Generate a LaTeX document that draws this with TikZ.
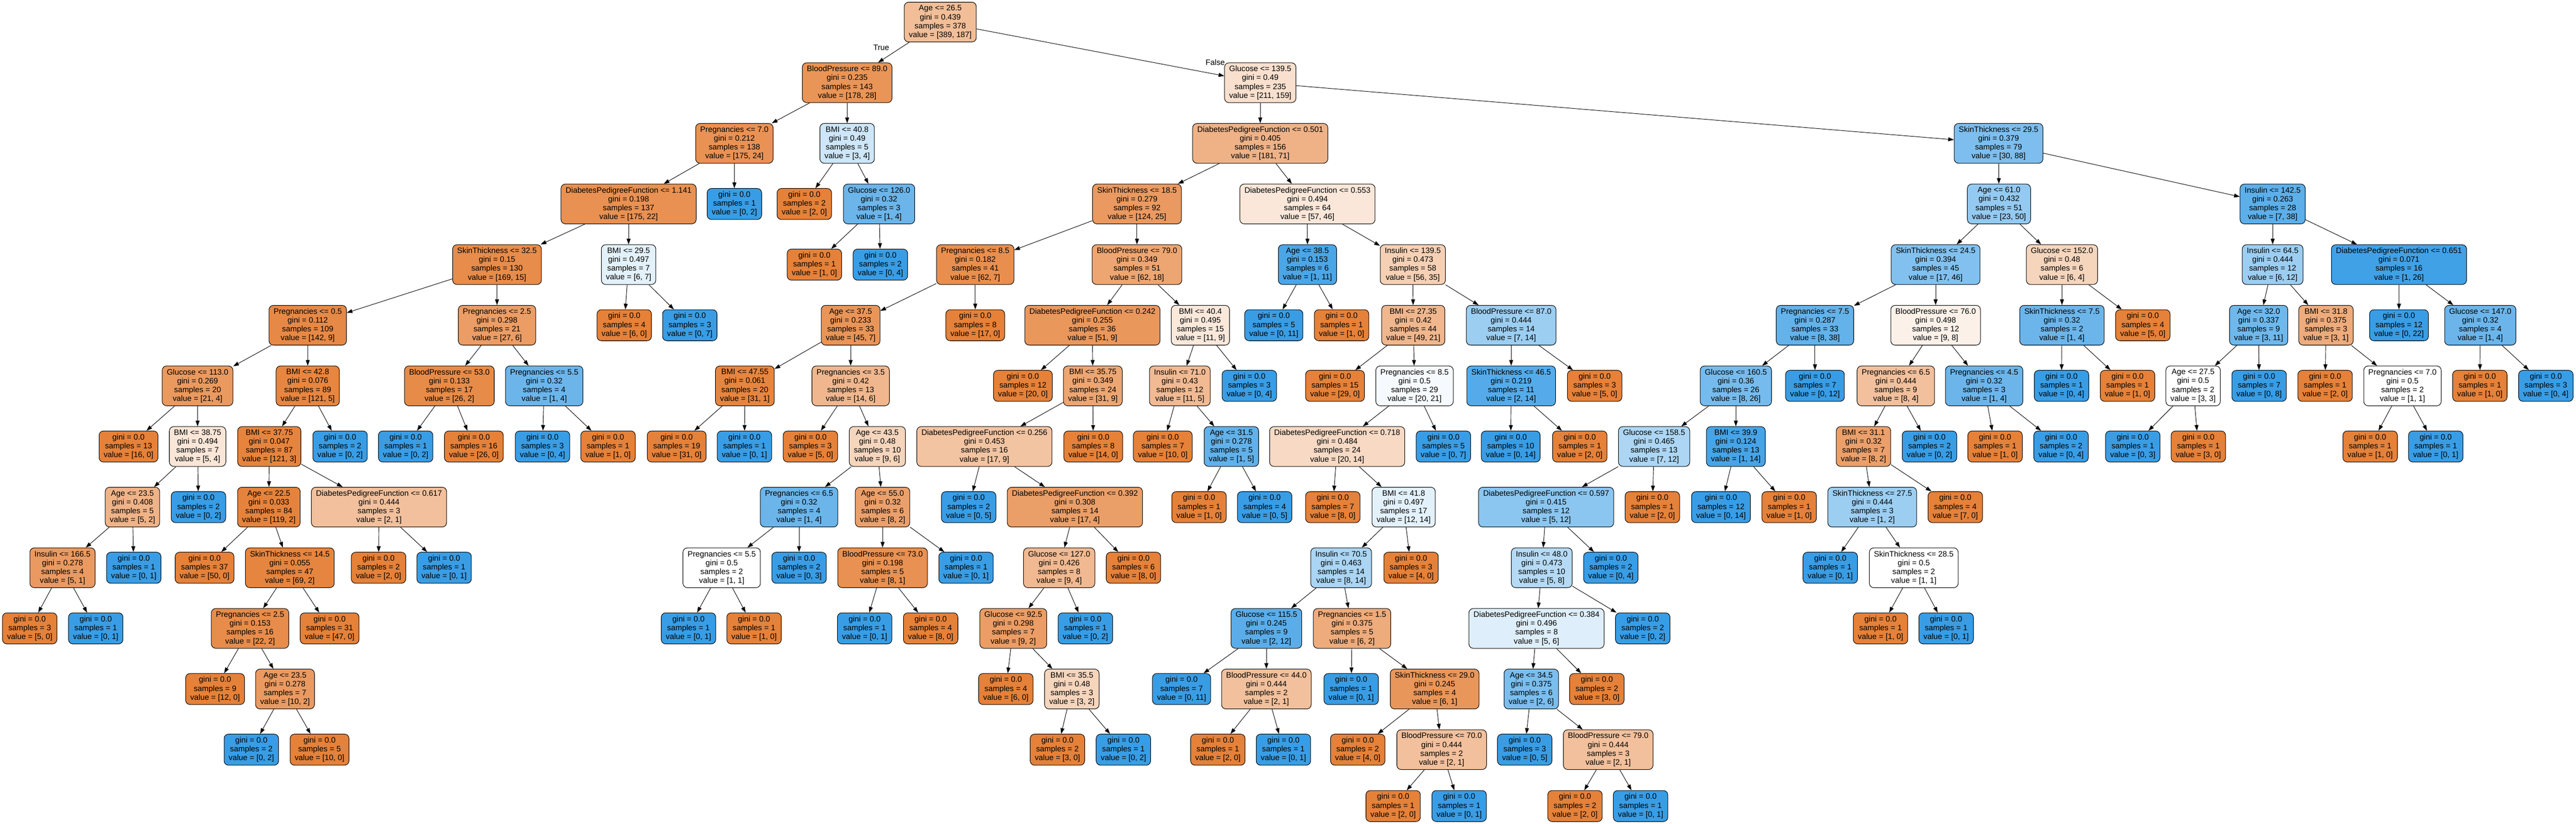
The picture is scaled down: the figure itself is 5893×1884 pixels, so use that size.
\documentclass[tikz,border=0pt]{standalone}
\usepackage{fontspec}
\setmainfont{Liberation Sans}
\usepackage{tikz}
\usetikzlibrary{arrows.meta}
\usetikzlibrary{positioning}
\definecolor{clsa}{RGB}{229,129,57}
\definecolor{clsb}{RGB}{57,157,229}

\begin{document}
\begin{tikzpicture}[x=1pt,y=-1pt,>={Triangle[length=13pt,width=9pt]}]
\tikzstyle{every node}=[font=\fontsize{18}{20.2}\selectfont]
\tikzstyle{splitbox}=[draw,line width=1.2pt,rounded corners=10pt,align=center,inner xsep=10.5pt,inner ysep=0pt,minimum height=91pt]
\tikzstyle{leafbox}=[splitbox,minimum height=71pt]
\def\ytop{50.5}
\def\dy{138.67}
\useasboundingbox (0,0) rectangle (5893,1884);

% noeud de test : nom, x, rang, test, gini, samples, valeurs
\newcommand{\splitnode}[8]{%
  \pgfmathsetmacro\tint{100*(abs(#7-#8)/max(#7,#8))}%
  \ifnum#7<#8\relax\def\cls{clsb}\else\def\cls{clsa}\fi
  \pgfmathsetmacro\yy{\ytop+\dy*#3}%
  \node[splitbox,fill=\cls!\tint!white] (#1) at (#2,\yy) {#4\\gini = #5\\samples = #6\\value = [#7, #8]};}
% feuille : nom, x, rang, samples, valeurs
\newcommand{\leafnode}[6]{%
  \ifnum#5=0\relax\def\cls{clsb}\else\def\cls{clsa}\fi
  \pgfmathsetmacro\yy{\ytop+\dy*#3}%
  \node[leafbox,fill=\cls] (#1) at (#2,\yy) {gini = 0.0\\samples = #4\\value = [#5, #6]};}

%=== Racine
\splitnode{n0}{2151}{0}{Age <= 26.5}{0.439}{378}{389}{187}

%=== Branche True
\splitnode{n1}{1938}{1}{BloodPressure <= 89.0}{0.235}{143}{178}{28}
\splitnode{n2}{1680}{2}{Pregnancies <= 7.0}{0.212}{138}{175}{24}
\splitnode{n3}{1438}{3}{DiabetesPedigreeFunction <= 1.141}{0.198}{137}{175}{22}
\splitnode{n4}{1137}{4}{SkinThickness <= 32.5}{0.15}{130}{169}{15}
\splitnode{n5}{704}{5}{Pregnancies <= 0.5}{0.112}{109}{142}{9}
\splitnode{n6}{452}{6}{Glucose <= 113.0}{0.269}{20}{21}{4}
\leafnode{n7}{294}{7}{13}{16}{0}
\splitnode{n8}{452}{7}{BMI <= 38.75}{0.494}{7}{5}{4}
\splitnode{n9}{303}{8}{Age <= 23.5}{0.408}{5}{5}{2}
\splitnode{n10}{143}{9}{Insulin <= 166.5}{0.278}{4}{5}{1}
\leafnode{n11}{68}{10}{3}{5}{0}
\leafnode{n12}{219}{10}{1}{0}{1}
\leafnode{n13}{306}{9}{1}{0}{1}
\leafnode{n14}{454}{8}{2}{0}{2}
\splitnode{n15}{704}{6}{BMI <= 42.8}{0.076}{89}{121}{5}
\splitnode{n16}{616}{7}{BMI <= 37.75}{0.047}{87}{121}{3}
\splitnode{n17}{615}{8}{Age <= 22.5}{0.033}{84}{119}{2}
\leafnode{n18}{468}{9}{37}{50}{0}
\splitnode{n19}{663}{9}{SkinThickness <= 14.5}{0.055}{47}{69}{2}
\splitnode{n20}{572}{10}{Pregnancies <= 2.5}{0.153}{16}{22}{2}
\leafnode{n21}{492}{11}{9}{12}{0}
\splitnode{n22}{652}{11}{Age <= 23.5}{0.278}{7}{10}{2}
\leafnode{n23}{575}{12}{2}{0}{2}
\leafnode{n24}{731}{12}{5}{10}{0}
\leafnode{n25}{754}{10}{31}{47}{0}
\splitnode{n26}{867}{8}{DiabetesPedigreeFunction <= 0.617}{0.444}{3}{2}{1}
\leafnode{n27}{866}{9}{2}{2}{0}
\leafnode{n28}{1016}{9}{1}{0}{1}
\leafnode{n29}{778}{7}{2}{0}{2}
\splitnode{n30}{1137}{5}{Pregnancies <= 2.5}{0.298}{21}{27}{6}
\splitnode{n31}{1028}{6}{BloodPressure <= 53.0}{0.133}{17}{26}{2}
\leafnode{n32}{928}{7}{1}{0}{2}
\leafnode{n33}{1084}{7}{16}{26}{0}
\splitnode{n34}{1245}{6}{Pregnancies <= 5.5}{0.32}{4}{1}{4}
\leafnode{n35}{1241}{7}{3}{0}{4}
\leafnode{n36}{1391}{7}{1}{1}{0}
\splitnode{n37}{1438}{4}{BMI <= 29.5}{0.497}{7}{6}{7}
\leafnode{n38}{1428}{5}{4}{6}{0}
\leafnode{n39}{1578}{5}{3}{0}{7}
\leafnode{n40}{1680}{3}{1}{0}{2}
\splitnode{n41}{1938}{2}{BMI <= 40.8}{0.49}{5}{3}{4}
\leafnode{n42}{1840}{3}{2}{2}{0}
\splitnode{n43}{2011}{3}{Glucose <= 126.0}{0.32}{3}{1}{4}
\leafnode{n44}{1863}{4}{1}{1}{0}
\leafnode{n45}{2014}{4}{2}{0}{4}

%=== Branche False
\splitnode{n46}{2883}{1}{Glucose <= 139.5}{0.49}{235}{211}{159}
\splitnode{n47}{2883}{2}{DiabetesPedigreeFunction <= 0.501}{0.405}{156}{181}{71}
\splitnode{n48}{2601}{3}{SkinThickness <= 18.5}{0.279}{92}{124}{25}
\splitnode{n49}{2231}{4}{Pregnancies <= 8.5}{0.182}{41}{62}{7}
\splitnode{n50}{1946}{5}{Age <= 37.5}{0.233}{33}{45}{7}
\splitnode{n51}{1704}{6}{BMI <= 47.55}{0.061}{20}{31}{1}
\leafnode{n52}{1548}{7}{19}{31}{0}
\leafnode{n53}{1703}{7}{1}{0}{1}
\splitnode{n54}{1946}{6}{Pregnancies <= 3.5}{0.42}{13}{14}{6}
\leafnode{n55}{1854}{7}{3}{5}{0}
\splitnode{n56}{2007}{7}{Age <= 43.5}{0.48}{10}{9}{6}
\splitnode{n57}{1828}{8}{Pregnancies <= 6.5}{0.32}{4}{1}{4}
\splitnode{n58}{1651}{9}{Pregnancies <= 5.5}{0.5}{2}{1}{1}
\leafnode{n59}{1575}{10}{1}{0}{1}
\leafnode{n60}{1725}{10}{1}{1}{0}
\leafnode{n61}{1828}{9}{2}{0}{3}
\splitnode{n62}{2019}{8}{Age <= 55.0}{0.32}{6}{8}{2}
\splitnode{n63}{2019}{9}{BloodPressure <= 73.0}{0.198}{5}{8}{1}
\leafnode{n64}{1978}{10}{1}{0}{1}
\leafnode{n65}{2129}{10}{4}{8}{0}
\leafnode{n66}{2210}{9}{1}{0}{1}
\leafnode{n67}{2231}{5}{8}{17}{0}
\splitnode{n68}{2601}{4}{BloodPressure <= 79.0}{0.349}{51}{62}{18}
\splitnode{n69}{2499}{5}{DiabetesPedigreeFunction <= 0.242}{0.255}{36}{51}{9}
\leafnode{n70}{2340}{6}{12}{20}{0}
\splitnode{n71}{2500}{6}{BMI <= 35.75}{0.349}{24}{31}{9}
\splitnode{n72}{2252}{7}{DiabetesPedigreeFunction <= 0.256}{0.453}{16}{17}{9}
\leafnode{n73}{2216}{8}{2}{0}{5}
\splitnode{n74}{2459}{8}{DiabetesPedigreeFunction <= 0.392}{0.308}{14}{17}{4}
\splitnode{n75}{2423}{9}{Glucose <= 127.0}{0.426}{8}{9}{4}
\splitnode{n76}{2318}{10}{Glucose <= 92.5}{0.298}{7}{9}{2}
\leafnode{n77}{2301}{11}{4}{6}{0}
\splitnode{n78}{2452}{11}{BMI <= 35.5}{0.48}{3}{3}{2}
\leafnode{n79}{2419}{12}{2}{3}{0}
\leafnode{n80}{2570}{12}{1}{0}{2}
\leafnode{n81}{2483}{10}{1}{0}{2}
\leafnode{n82}{2593}{9}{6}{8}{0}
\leafnode{n83}{2501}{7}{8}{14}{0}
\splitnode{n84}{2746}{5}{BMI <= 40.4}{0.495}{15}{11}{9}
\splitnode{n85}{2699}{6}{Insulin <= 71.0}{0.43}{12}{11}{5}
\leafnode{n86}{2660}{7}{7}{10}{0}
\splitnode{n87}{2817}{7}{Age <= 31.5}{0.278}{5}{1}{5}
\leafnode{n88}{2743}{8}{1}{1}{0}
\leafnode{n89}{2893}{8}{4}{0}{5}
\leafnode{n90}{2858}{6}{3}{0}{4}
\splitnode{n91}{2991}{3}{DiabetesPedigreeFunction <= 0.553}{0.494}{64}{57}{46}
\splitnode{n92}{2991}{4}{Age <= 38.5}{0.153}{6}{1}{11}
\leafnode{n93}{2914}{5}{5}{0}{11}
\leafnode{n94}{3069}{5}{1}{1}{0}
\splitnode{n95}{3232}{4}{Insulin <= 139.5}{0.473}{58}{56}{35}
\splitnode{n96}{3233}{5}{BMI <= 27.35}{0.42}{44}{49}{21}
\leafnode{n97}{3054}{6}{15}{29}{0}
\splitnode{n98}{3236}{6}{Pregnancies <= 8.5}{0.5}{29}{20}{21}
\splitnode{n99}{3059}{7}{DiabetesPedigreeFunction <= 0.718}{0.484}{24}{20}{14}
\leafnode{n100}{3049}{8}{7}{8}{0}
\splitnode{n101}{3211}{8}{BMI <= 41.8}{0.497}{17}{12}{14}
\splitnode{n102}{3068}{9}{Insulin <= 70.5}{0.463}{14}{8}{14}
\splitnode{n103}{2897}{10}{Glucose <= 115.5}{0.245}{9}{2}{12}
\leafnode{n104}{2703}{11}{7}{0}{11}
\splitnode{n105}{2897}{11}{BloodPressure <= 44.0}{0.444}{2}{2}{1}
\leafnode{n106}{2786}{12}{1}{2}{0}
\leafnode{n107}{2936}{12}{1}{0}{1}
\splitnode{n108}{3093}{10}{Pregnancies <= 1.5}{0.375}{5}{6}{2}
\leafnode{n109}{3091}{11}{1}{0}{1}
\splitnode{n110}{3282}{11}{SkinThickness <= 29.0}{0.245}{4}{6}{1}
\leafnode{n111}{3106}{12}{2}{4}{0}
\splitnode{n112}{3298}{12}{BloodPressure <= 70.0}{0.444}{2}{2}{1}
\leafnode{n113}{3187}{12.93}{1}{2}{0}
\leafnode{n114}{3338}{12.93}{1}{0}{1}
\leafnode{n115}{3228}{9}{3}{4}{0}
\leafnode{n116}{3302}{7}{5}{0}{7}
\splitnode{n117}{3457}{5}{BloodPressure <= 87.0}{0.444}{14}{7}{14}
\splitnode{n118}{3457}{6}{SkinThickness <= 46.5}{0.219}{11}{2}{14}
\leafnode{n119}{3456}{7}{10}{0}{14}
\leafnode{n120}{3614}{7}{1}{2}{0}
\leafnode{n121}{3648}{6}{3}{5}{0}
\splitnode{n122}{4572}{2}{SkinThickness <= 29.5}{0.379}{79}{30}{88}
\splitnode{n123}{4573}{3}{Age <= 61.0}{0.432}{51}{23}{50}
\splitnode{n124}{4428}{4}{SkinThickness <= 24.5}{0.394}{45}{17}{46}
\splitnode{n125}{4152}{5}{Pregnancies <= 7.5}{0.287}{33}{8}{38}
\splitnode{n126}{3971}{6}{Glucose <= 160.5}{0.36}{26}{8}{26}
\splitnode{n127}{3784}{7}{Glucose <= 158.5}{0.465}{13}{7}{12}
\splitnode{n128}{3537}{8}{DiabetesPedigreeFunction <= 0.597}{0.415}{12}{5}{12}
\splitnode{n129}{3527}{9}{Insulin <= 48.0}{0.473}{10}{5}{8}
\splitnode{n130}{3515}{10}{DiabetesPedigreeFunction <= 0.384}{0.496}{8}{5}{6}
\splitnode{n131}{3503}{11}{Age <= 34.5}{0.375}{6}{2}{6}
\leafnode{n132}{3488}{12}{3}{0}{5}
\splitnode{n133}{3679}{12}{BloodPressure <= 79.0}{0.444}{3}{2}{1}
\leafnode{n134}{3603}{12.93}{2}{2}{0}
\leafnode{n135}{3753}{12.93}{1}{0}{1}
\leafnode{n136}{3653}{11}{2}{3}{0}
\leafnode{n137}{3758}{10}{2}{0}{2}
\leafnode{n138}{3685}{9}{2}{0}{4}
\leafnode{n139}{3780}{8}{1}{2}{0}
\splitnode{n140}{3971}{7}{BMI <= 39.9}{0.124}{13}{1}{14}
\leafnode{n141}{3937}{8}{12}{0}{14}
\leafnode{n142}{4093}{8}{1}{1}{0}
\leafnode{n143}{4152}{6}{7}{0}{12}
\splitnode{n144}{4428}{5}{BloodPressure <= 76.0}{0.498}{12}{9}{8}
\splitnode{n145}{4337}{6}{Pregnancies <= 6.5}{0.444}{9}{8}{4}
\splitnode{n146}{4263}{7}{BMI <= 31.1}{0.32}{7}{8}{2}
\splitnode{n147}{4283}{8}{SkinThickness <= 27.5}{0.444}{3}{1}{2}
\leafnode{n148}{4187}{9}{1}{0}{1}
\splitnode{n149}{4378}{9}{SkinThickness <= 28.5}{0.5}{2}{1}{1}
\leafnode{n150}{4302}{10}{1}{1}{0}
\leafnode{n151}{4452}{10}{1}{0}{1}
\leafnode{n152}{4473}{8}{4}{7}{0}
\leafnode{n153}{4414}{7}{2}{0}{2}
\splitnode{n154}{4539}{6}{Pregnancies <= 4.5}{0.32}{3}{1}{4}
\leafnode{n155}{4564}{7}{1}{1}{0}
\leafnode{n156}{4715}{7}{2}{0}{4}
\splitnode{n157}{4717}{4}{Glucose <= 152.0}{0.48}{6}{6}{4}
\splitnode{n158}{4717}{5}{SkinThickness <= 7.5}{0.32}{2}{1}{4}
\leafnode{n159}{4716}{6}{1}{0}{4}
\leafnode{n160}{4867}{6}{1}{1}{0}
\leafnode{n161}{4902}{5}{4}{5}{0}
\splitnode{n162}{5199}{3}{Insulin <= 142.5}{0.263}{28}{7}{38}
\splitnode{n163}{5199}{4}{Insulin <= 64.5}{0.444}{12}{6}{12}
\splitnode{n164}{5167}{5}{Age <= 32.0}{0.337}{9}{3}{11}
\splitnode{n165}{5017}{6}{Age <= 27.5}{0.5}{2}{3}{3}
\leafnode{n166}{4879}{7}{1}{0}{3}
\leafnode{n167}{5029}{7}{1}{3}{0}
\leafnode{n168}{5168}{6}{7}{0}{8}
\splitnode{n169}{5321}{5}{BMI <= 31.8}{0.375}{3}{3}{1}
\leafnode{n170}{5319}{6}{1}{2}{0}
\splitnode{n171}{5496}{6}{Pregnancies <= 7.0}{0.5}{2}{1}{1}
\leafnode{n172}{5422}{7}{1}{1}{0}
\leafnode{n173}{5572}{7}{1}{0}{1}
\splitnode{n174}{5488}{4}{DiabetesPedigreeFunction <= 0.651}{0.071}{16}{1}{26}
\leafnode{n175}{5488}{5}{12}{0}{22}
\splitnode{n176}{5674}{5}{Glucose <= 147.0}{0.32}{4}{1}{4}
\leafnode{n177}{5673}{6}{1}{1}{0}
\leafnode{n178}{5824}{6}{3}{0}{4}

%=== Liens parent -> enfants
\foreach \p/\a/\b in {0/1/46,1/2/41,2/3/40,3/4/37,4/5/30,5/6/15,6/7/8,8/9/14,9/10/13,10/11/12,
  15/16/29,16/17/26,17/18/19,19/20/25,20/21/22,22/23/24,26/27/28,30/31/34,31/32/33,34/35/36,
  37/38/39,41/42/43,43/44/45,46/47/122,47/48/91,48/49/68,49/50/67,50/51/54,51/52/53,54/55/56,
  56/57/62,57/58/61,58/59/60,62/63/66,63/64/65,68/69/84,69/70/71,71/72/83,72/73/74,74/75/82,
  75/76/81,76/77/78,78/79/80,84/85/90,85/86/87,87/88/89,91/92/95,92/93/94,95/96/117,96/97/98,
  98/99/116,99/100/101,101/102/115,102/103/108,103/104/105,105/106/107,108/109/110,110/111/112,
  112/113/114,117/118/121,118/119/120,122/123/162,123/124/157,124/125/144,125/126/143,
  126/127/140,127/128/139,128/129/138,129/130/137,130/131/136,131/132/133,133/134/135,
  140/141/142,144/145/154,145/146/153,146/147/152,147/148/149,149/150/151,154/155/156,
  157/158/161,158/159/160,162/163/174,163/164/169,164/165/168,165/166/167,169/170/171,
  171/172/173,174/175/176,176/177/178}{
  \draw[->,line width=1.1pt] (n\p) -- (n\a);
  \draw[->,line width=1.1pt] (n\p) -- (n\b);
}

% True / False
\node (vrai) at (2016,109) {True};
\node (faux) at (2780,143) {False};
\end{tikzpicture}
\end{document}
